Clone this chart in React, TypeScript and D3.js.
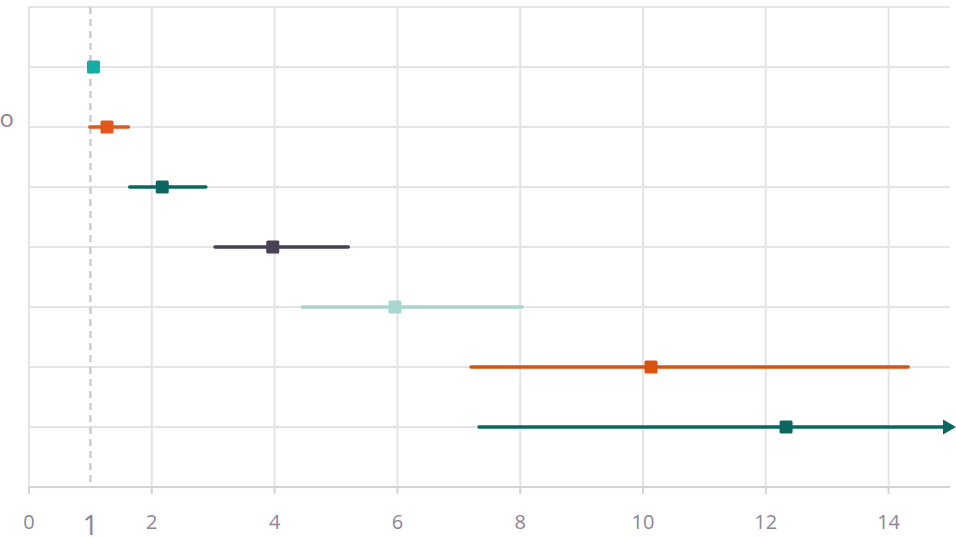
import React from "react";
import * as d3 from "d3";

// Odds-ratio style forest plot: point estimate with confidence interval per row
const rows = [1, 2, 3, 4, 5, 6, 7];
const estimates = [1.05, 1.27, 2.17, 3.97, 5.96, 10.13, 12.33];
const lowerCI = [1.05, 0.99, 1.64, 3.03, 4.45, 7.2, 7.33];
const upperCI = [1.05, 1.62, 2.88, 5.2, 8.03, 14.32, 18.5];
const colors = ["#14ada5", "#e0561b", "#0b6660", "#4b4152", "#a8d6d0", "#d9530f", "#0b6660"];
const xTicks = [0, 2, 4, 6, 8, 10, 12, 14];
const refValue = 1;
const yLabel = "o";

const W = 956;
const H = 538;
const margin = { left: 29, right: 6, top: 7, bottom: 51 };

export default function App() {
  const x = d3.scaleLinear().domain([0, 15]).range([margin.left, W - margin.right]);
  const y = d3.scaleLinear().domain([0, 8]).range([margin.top, H - margin.bottom]);
  const [x0, x1] = x.range();
  const yAxis = y(8);
  const gridRows = d3.range(0, 8);
  const textColor = "#8e8496";
  const font = "'Open Sans', 'Noto Sans', sans-serif";

  return (
    <svg width={W} height={H} style={{ position: "absolute", left: 0, top: 0, background: "#fff" }}>
      {/* horizontal grid */}
      {gridRows.map((r) => (
        <line key={"h" + r} x1={x0} x2={x1} y1={y(r)} y2={y(r)} stroke="#e6e3e8" strokeWidth={2} />
      ))}
      {/* vertical grid + ticks */}
      {xTicks.map((t) => (
        <g key={"v" + t}>
          <line x1={x(t)} x2={x(t)} y1={y(0)} y2={yAxis} stroke="#e6e3e8" strokeWidth={2} />
          <line x1={x(t)} x2={x(t)} y1={yAxis} y2={yAxis + 7} stroke="#d6d0da" strokeWidth={2} />
          <text
            x={x(t)}
            y={529}
            textAnchor="middle"
            fontFamily={font}
            fontSize={20}
            fill={textColor}
          >
            {t}
          </text>
        </g>
      ))}
      {/* x axis line */}
      <line x1={x0} x2={x1} y1={yAxis} y2={yAxis} stroke="#d6d0da" strokeWidth={2} />
      {/* reference line */}
      <line
        x1={x(refValue)}
        x2={x(refValue)}
        y1={y(0)}
        y2={yAxis}
        stroke="#cfcad3"
        strokeWidth={2.5}
        strokeDasharray="7,5"
      />
      <text x={x(refValue)} y={535} textAnchor="middle" fontFamily={font} fontSize={28} fill={textColor}>
        {refValue}
      </text>
      <text x={14} y={127} textAnchor="end" fontFamily={font} fontSize={24} fill={textColor}>
        {yLabel}
      </text>
      {/* intervals and estimates */}
      {rows.map((r, i) => {
        const cy = y(r);
        const clipped = upperCI[i] > 15;
        const lineEnd = clipped ? x(15) - 6 : x(upperCI[i]);
        const tip = x(15) + 6;
        return (
          <g key={"r" + r}>
            {upperCI[i] > lowerCI[i] && (
              <line
                x1={x(lowerCI[i])}
                x2={lineEnd}
                y1={cy}
                y2={cy}
                stroke={colors[i]}
                strokeWidth={3.5}
                strokeLinecap="round"
              />
            )}
            {clipped && (
              <path
                d={`M${tip},${cy} L${tip - 13},${cy - 7.5} L${tip - 13},${cy + 7.5} Z`}
                fill={colors[i]}
              />
            )}
            <rect
              x={x(estimates[i]) - 6.5}
              y={cy - 6.5}
              width={13}
              height={13}
              rx={1.5}
              fill={colors[i]}
            />
          </g>
        );
      })}
    </svg>
  );
}
